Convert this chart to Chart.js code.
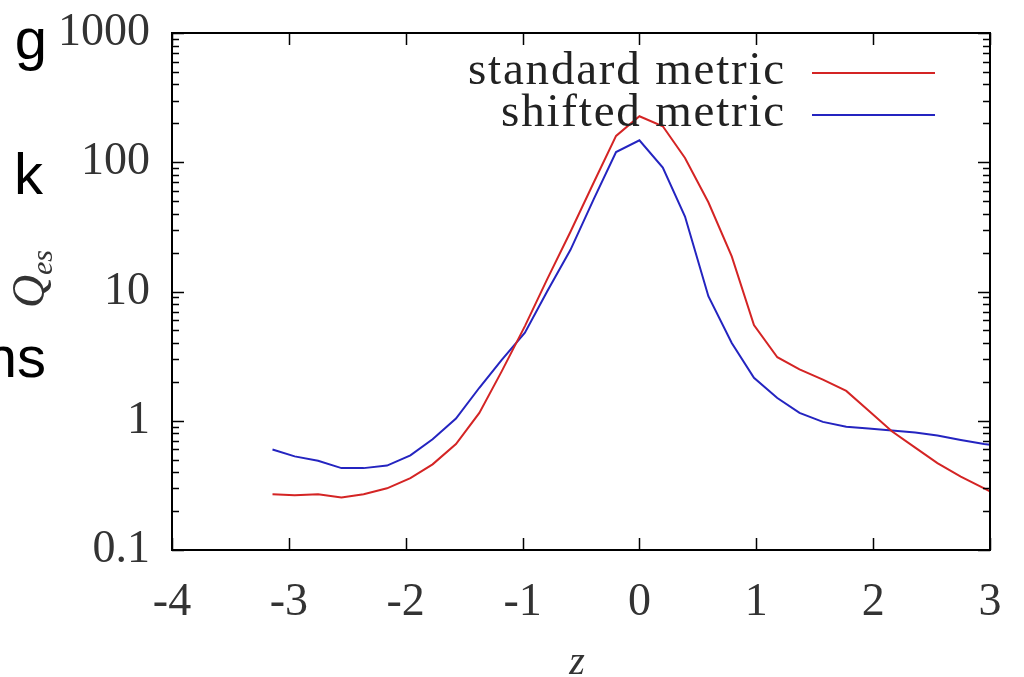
<!DOCTYPE html>
<html>
<head>
<meta charset="utf-8">
<script src="https://cdn.jsdelivr.net/npm/chart.js@4"></script>
<style>
  html, body { margin: 0; padding: 0; background: #fff; }
  #contenedor { width: 1024px; height: 677px; position: relative; }
</style>
</head>
<body>
<div id="contenedor"><canvas id="graficaQes"></canvas></div>
<script>
// Datos
const zValores = [-3.14, -2.95, -2.75, -2.55, -2.36, -2.16, -1.96, -1.77, -1.57, -1.37, -1.18,
                  -0.98, -0.79, -0.59, -0.39, -0.20, 0, 0.20, 0.39, 0.59, 0.79, 0.98, 1.18,
                  1.37, 1.57, 1.77, 1.96, 2.16, 2.36, 2.55, 2.75, 2.95, 3.14];
const metricaEstandar = [0.27, 0.265, 0.27, 0.255, 0.27, 0.30, 0.36, 0.46, 0.66, 1.15, 2.4,
                         5.4, 12.4, 29, 70, 160, 227, 190, 108, 49, 18.7, 5.5, 3.1,
                         2.5, 2.08, 1.7, 1.2, 0.83, 0.62, 0.47, 0.37, 0.30, 0.245];
const metricaDesplazada = [0.60, 0.53, 0.49, 0.43, 0.43, 0.45, 0.54, 0.72, 1.04, 1.8, 2.95,
                           4.8, 10, 21, 52, 120, 148, 91, 38, 9.2, 4.0, 2.15, 1.5,
                           1.15, 0.98, 0.90, 0.87, 0.84, 0.81, 0.77, 0.71, 0.66, 0.63];
const etiquetasSeries = ['standard metric', 'shifted metric'];
const ticksX = [-4, -3, -2, -1, 0, 1, 2, 3];
const ticksYMayores = [0.1, 1, 10, 100, 1000];
const etiquetasY = ['0.1', '1', '10', '100', '1000'];
const ticksYMenores = [0.2, 0.3, 0.4, 0.5, 0.6, 0.7, 0.8, 0.9, 2, 3, 4, 5, 6, 7, 8, 9,
                       20, 30, 40, 50, 60, 70, 80, 90, 200, 300, 400, 500, 600, 700, 800, 900];

const ROJO = '#d42424';
const AZUL = '#2424c0';
const FUENTE = '"Liberation Serif", "DejaVu Serif", serif';

// Marco, ticks hacia dentro, leyenda y títulos estilo gnuplot
const decoracion = {
    id: 'decoracion',
    afterDraw(chart) {
        const ctx = chart.ctx;
        const a = chart.chartArea;
        const x = chart.scales.x;
        const y = chart.scales.y;
        ctx.save();
        ctx.strokeStyle = '#000';
        ctx.lineWidth = 2;
        ctx.strokeRect(a.left, a.top, a.right - a.left, a.bottom - a.top);

        ctx.lineWidth = 1.5;
        ctx.beginPath();
        ticksX.forEach(v => {
            const px = Math.round(x.getPixelForValue(v)) + 0.5;
            ctx.moveTo(px, a.bottom); ctx.lineTo(px, a.bottom - 12);
            ctx.moveTo(px, a.top); ctx.lineTo(px, a.top + 12);
        });
        ticksYMayores.forEach(v => {
            const py = Math.round(y.getPixelForValue(v)) + 0.5;
            ctx.moveTo(a.left, py); ctx.lineTo(a.left + 12, py);
            ctx.moveTo(a.right, py); ctx.lineTo(a.right - 12, py);
        });
        ticksYMenores.forEach(v => {
            const py = Math.round(y.getPixelForValue(v)) + 0.5;
            ctx.moveTo(a.left, py); ctx.lineTo(a.left + 7, py);
            ctx.moveTo(a.right, py); ctx.lineTo(a.right - 7, py);
        });
        ctx.stroke();

        // Leyenda: texto a la derecha, muestra de línea después
        ctx.font = '47px ' + FUENTE;
        ctx.letterSpacing = '1.8px';
        ctx.fillStyle = '#222';
        ctx.textAlign = 'right';
        ctx.textBaseline = 'middle';
        chart.data.datasets.forEach((ds, i) => {
            const fy = 72 + i * 42;
            ctx.fillText(ds.label, 786, fy);
            ctx.strokeStyle = ds.borderColor;
            ctx.lineWidth = 2;
            ctx.beginPath();
            ctx.moveTo(812, fy + 1);
            ctx.lineTo(935, fy + 1);
            ctx.stroke();
        });
        ctx.letterSpacing = '0px';

        // Título eje x
        ctx.fillStyle = '#333';
        ctx.textAlign = 'center';
        ctx.textBaseline = 'alphabetic';
        ctx.font = 'italic 40px ' + FUENTE;
        ctx.fillText('z', 577, 674);

        // Título eje y: Q_es girado
        ctx.save();
        ctx.translate(44, 282);
        ctx.rotate(-Math.PI / 2);
        ctx.textAlign = 'left';
        ctx.font = 'italic 46px ' + FUENTE;
        ctx.fillText('Q', -26, 0);
        ctx.font = 'italic 30px ' + FUENTE;
        ctx.fillText('es', 7, 8);
        ctx.restore();

        // Restos de texto de la diapositiva vecina
        ctx.fillStyle = '#000';
        ctx.textAlign = 'right';
        ctx.font = '58px "Liberation Sans", Arial, sans-serif';
        ctx.fillText('g', 47, 59);
        ctx.fillText('k', 43, 194);
        ctx.fillText('ns', 46, 377);
        ctx.restore();
    }
};

function renderizarGrafica() {
    new Chart(document.getElementById('graficaQes'), {
        type: 'line',
        data: {
            datasets: [{
                label: etiquetasSeries[0],
                data: zValores.map((z, i) => ({ x: z, y: metricaEstandar[i] })),
                borderColor: ROJO,
                borderWidth: 2,
                pointRadius: 0,
                tension: 0
            }, {
                label: etiquetasSeries[1],
                data: zValores.map((z, i) => ({ x: z, y: metricaDesplazada[i] })),
                borderColor: AZUL,
                borderWidth: 2,
                pointRadius: 0,
                tension: 0
            }]
        },
        plugins: [decoracion],
        options: {
            responsive: true,
            maintainAspectRatio: false,
            animation: false,
            layout: { padding: { top: 33, right: 34, left: 0, bottom: 0 } },
            plugins: {
                legend: { display: false },
                tooltip: { enabled: false }
            },
            scales: {
                x: {
                    type: 'linear',
                    min: -4,
                    max: 3,
                    afterBuildTicks: s => { s.ticks = ticksX.map(v => ({ value: v })); },
                    afterFit: s => {
                        s.height = 127;
                        s.paddingLeft = 0;
                        s.paddingRight = 0;
                    },
                    grid: { display: false, drawTicks: false },
                    border: { display: false },
                    ticks: {
                        color: '#333',
                        padding: 25,
                        maxRotation: 0,
                        font: { family: FUENTE, size: 46 },
                        callback: v => String(v)
                    }
                },
                y: {
                    type: 'logarithmic',
                    min: 0.1,
                    max: 1000,
                    afterBuildTicks: s => { s.ticks = ticksYMayores.map(v => ({ value: v })); },
                    afterFit: s => {
                        s.width = 172;
                        s.paddingTop = 0;
                        s.paddingBottom = 0;
                    },
                    grid: { display: false, drawTicks: false },
                    border: { display: false },
                    ticks: {
                        color: '#333',
                        padding: 22,
                        font: { family: FUENTE, size: 46 },
                        callback: v => etiquetasY[ticksYMayores.indexOf(v)]
                    }
                }
            }
        }
    });
}

document.addEventListener('DOMContentLoaded', renderizarGrafica);
</script>
</body>
</html>
